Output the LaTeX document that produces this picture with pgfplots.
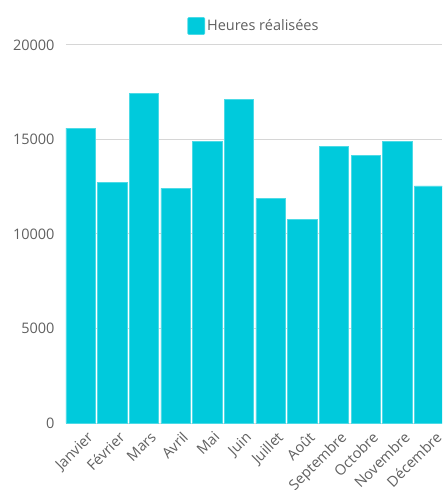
\documentclass[border=0pt]{standalone}
\usepackage{pgfplots}
\pgfplotsset{compat=1.18}
\usepackage{fontspec}
\setmainfont{Open Sans}
\definecolor{barc}{RGB}{0,202,220}
\definecolor{gridc}{RGB}{214,214,214}
\definecolor{txt}{RGB}{96,96,96}

\begin{document}
\begin{tikzpicture}[x=1pt,y=1pt]
\begin{axis}[
    scale only axis,
    width=376pt, height=378pt,
    xmin=-0.46, xmax=11.41,
    ymin=0, ymax=20000,
    ytick={0,5000,10000,15000,20000},
    scaled y ticks=false,
    xtick={0,...,11},
    xticklabels={Janvier,Février,Mars,Avril,Mai,Juin,Juillet,Août,Septembre,Octobre,Novembre,Décembre},
    xticklabel style={rotate=45, anchor=north east, xshift=2pt, yshift=-6pt},
    yticklabel style={xshift=-8pt},
    /pgf/number format/assume math mode=true,
    /pgf/number format/set thousands separator={},
    ticklabel style={font=\fontsize{14.5}{16}\selectfont, text=txt},
    major tick length=0pt,
    axis line style={draw=none},
    ymajorgrids,
    grid style={gridc, line width=1pt},
    ybar,
    bar width=0.925,
    legend style={at={(0.5,1)}, anchor=south, yshift=8pt, draw=none,
      font=\fontsize{14.5}{16}\selectfont, text=txt,
      /tikz/every even column/.append style={column sep=4pt}},
]
\addplot[fill=barc, draw=barc!70!white, line width=0.6pt,
  legend image code/.code={\draw[fill=barc, draw=barc!70!white, rounded corners=1pt] (0pt,-8.5pt) rectangle (17pt,8.5pt);}] coordinates {
  (0,15600) (1,12740) (2,17440) (3,12420) (4,14920) (5,17140)
  (6,11890) (7,10780) (8,14620) (9,14160) (10,14900) (11,12540)
};
\legend{Heures réalisées}
\coordinate (bl) at (rel axis cs:0,0);
\coordinate (tr) at (rel axis cs:1,1);
\end{axis}
\pgfresetboundingbox
\path[use as bounding box] ([shift={(-66pt,-67pt)}]bl) rectangle ([shift={(0pt,45pt)}]tr);
\end{tikzpicture}
\end{document}
